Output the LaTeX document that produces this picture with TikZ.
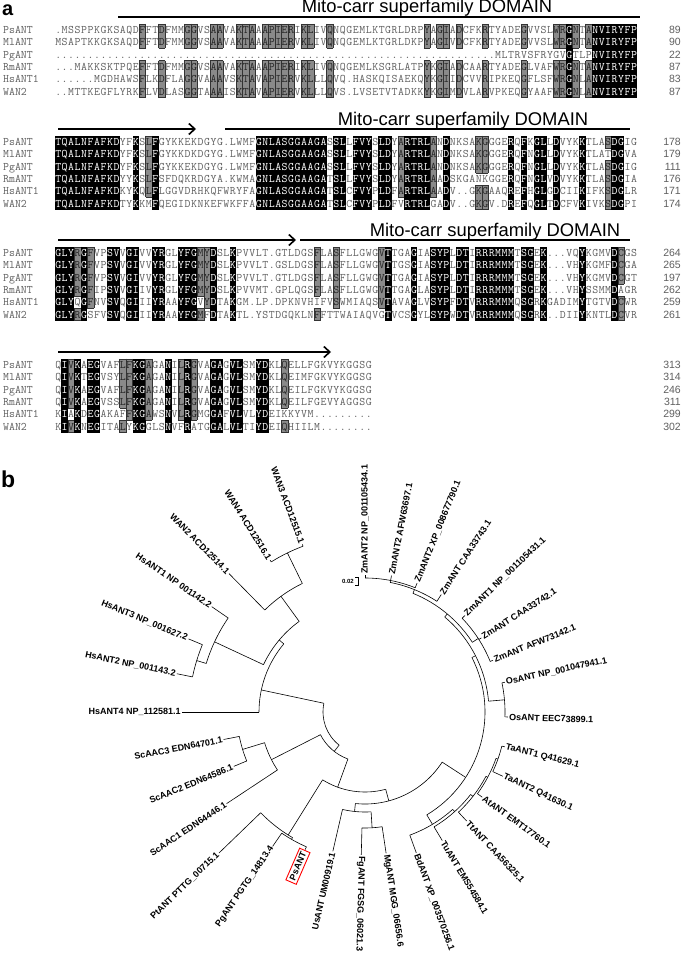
\documentclass[tikz,border=0pt]{standalone}
\usepackage{fontspec}
\setmainfont{Liberation Sans}
\usetikzlibrary{arrows.meta}
\definecolor{alngray}{HTML}{8A8A8A}
\definecolor{seqgray}{HTML}{606060}
\tikzset{
  seqtxt/.style={anchor=base, inner sep=0pt, text=seqgray, font=\ttfamily\fontsize{11.5}{12}\selectfont},
  nametxt/.style={anchor=base west, inner sep=0pt, text=seqgray, font=\ttfamily\fontsize{11.5}{12}\selectfont},
  numtxt/.style={anchor=base east, inner sep=0pt, text=seqgray, font=\fontsize{10.5}{12}\selectfont},
  hdr/.style={anchor=base, inner sep=0pt, font=\fontsize{18.4}{20}\selectfont},
  domline/.style={line width=2pt},
  domarrow/.style={line width=2pt, -{Straight Barb[length=6pt,width=11pt,line width=1.6pt]}},
  gedge/.style={line width=0.5pt, draw=black!80},
  tree/.style={line width=0.6pt},
  leaf/.style={inner sep=0.6pt, font=\bfseries\fontsize{9}{10}\selectfont},
  panel/.style={anchor=base west, inner sep=0pt, font=\bfseries\fontsize{20}{24}\selectfont}
}
% #1 x, #2 y, #3 char, #4 identity count, #5 grey above, #6 grey below
\newcommand\alncell[6]{%
  \ifnum#4=6
    \fill[black] (#1-3.3,#2-6.2) rectangle (#1+3.3,#2+6.2);
    \node[seqtxt,text=white] at (#1,#2+3.6) {#3};
  \else\ifnum#4=5
    \fill[alngray] (#1-3.235,#2-6.15) rectangle (#1+3.235,#2+6.15);
    \draw[gedge] (#1-3.235,#2-6.15) -- (#1-3.235,#2+6.15);
    \draw[gedge] (#1+3.235,#2-6.15) -- (#1+3.235,#2+6.15);
    \ifnum#5=0 \draw[gedge] (#1-3.235,#2-6.15) -- (#1+3.235,#2-6.15);\fi
    \ifnum#6=0 \draw[gedge] (#1-3.235,#2+6.15) -- (#1+3.235,#2+6.15);\fi
    \node[seqtxt,text=black!85] at (#1,#2+3.6) {#3};
  \else
    \node[seqtxt] at (#1,#2+3.6) {#3};
  \fi\fi}
\newcommand\alnlabels[7]{%
  \foreach \nm/\nu [count=\i from 0] in {PsANT/#2, MlANT/#3, PgANT/#4, RmANT/#5, HsANT1/#6, WAN2/#7}{
    \node[nametxt] at (3,#1+\i*12.3+3.6) {\nm};
    \node[numtxt] at (681,#1+\i*12.3+3.6) {\nu};}}
\newcommand\tstem[5]{%
  \draw[tree] (#2:#1) -- (#2:#3);
  \draw[tree] (#4:#3) arc[start angle=#4, end angle=#5, radius=#3];}
\newcommand\tleafR[4]{%
  \draw[tree] (#2:#1) -- (#2:#3);
  \node[leaf,anchor=west,rotate=#2] at (#2:#3+0.5) {#4};}
\newcommand\tleafL[4]{%
  \draw[tree] (#2:#1) -- (#2:#3);
  \node[leaf,anchor=east,rotate=#2+180] at (#2:#3+0.5) {#4};}
\ExplSyntaxOn
\int_new:N \l_aln_len_int
\int_new:N \l_aln_cnt_int
\tl_new:N \l_aln_x_tl
\tl_new:N \l_aln_y_tl
\tl_new:N \l_aln_u_tl
\tl_new:N \l_aln_d_tl
\int_step_inline:nn {6}
  {
    \str_new:c {l_aln_r #1 _str}
    \tl_new:c {l_aln_c #1 _tl}
  }
\int_step_inline:nnn {0} {7}
  { \int_new:c {l_aln_k #1 _int} }
\cs_new_protected:Npn \alnblock #1#2#3#4#5#6#7
  {
    \str_set:cn {l_aln_r1_str} {#2}
    \str_set:cn {l_aln_r2_str} {#3}
    \str_set:cn {l_aln_r3_str} {#4}
    \str_set:cn {l_aln_r4_str} {#5}
    \str_set:cn {l_aln_r5_str} {#6}
    \str_set:cn {l_aln_r6_str} {#7}
    \int_set:Nn \l_aln_len_int { \str_count:c {l_aln_r1_str} }
    \int_step_inline:nn { \l_aln_len_int }
      {
        \tl_set:Nx \l_aln_x_tl { \fp_eval:n { 55 + (##1 - 0.5) * 6.47 } }
        \int_step_inline:nn {6}
          {
            \tl_set:cx {l_aln_c ####1 _tl} { \str_item:cn {l_aln_r ####1 _str} {##1} }
          }
        \int_step_inline:nn {6}
          {
            \int_zero:N \l_aln_cnt_int
            \str_if_eq:eeF { \tl_use:c {l_aln_c ####1 _tl} } { . }
              {
                \int_step_inline:nn {6}
                  {
                    \str_if_eq:eeT { \tl_use:c {l_aln_c ####1 _tl} } { \tl_use:c {l_aln_c ########1 _tl} }
                      { \int_incr:N \l_aln_cnt_int }
                  }
              }
            \int_set_eq:cN {l_aln_k ####1 _int} \l_aln_cnt_int
          }
        \int_step_inline:nn {6}
          {
            \tl_set:Nx \l_aln_y_tl { \fp_eval:n { #1 + (####1 - 1) * 12.3 } }
            \tl_set:Nx \l_aln_u_tl
              { \int_compare:nNnTF { \int_use:c {l_aln_k \int_eval:n {####1 - 1} _int} } = {5} {1} {0} }
            \tl_set:Nx \l_aln_d_tl
              { \int_compare:nNnTF { \int_use:c {l_aln_k \int_eval:n {####1 + 1} _int} } = {5} {1} {0} }
            \alncell { \l_aln_x_tl } { \l_aln_y_tl } { \tl_use:c {l_aln_c ####1 _tl} }
              { \int_use:c {l_aln_k ####1 _int} } { \l_aln_u_tl } { \l_aln_d_tl }
          }
      }
  }
\ExplSyntaxOff
\begin{document}
\begin{tikzpicture}[x=1pt,y=-1pt]
\fill[white] (0,0) rectangle (685,963);
\useasboundingbox (0,0) rectangle (685,963);
% ---------------- panel a ----------------
\node[panel] (pa) at (2,16) {a};
\draw[domline] (118,17) -- (640,17);
\node[hdr] (h1) at (427,13) {Mito-carr superfamily DOMAIN};
\alnblock{30}
{.MSSPPKGKSAQDFFTDFMMGGVSAAVAKTAAAPIERIKLIVQNQGEMLKTGRLDRPYAGIADCFKRTYADEGVVSLWRGNTANVIRYFP}
{MSAPTKKGKSAQDFFTDFMMGGVSAAVAKTAAAPIERVKLIVQNQGEMLKTGRLDKPYAGIVDCFKRTYADEGVVSLWRGNTANVIRYFP}
{....................................................................MLTRVSFRYGVGTLPNVIRYFP}
{...MAKKSKTPQEFFTDFMMGGVSAAVAKTAAAPIERIKLIVQNQGEMLKSGRLATPYKGIADCAARTYADEGLVAFWRGNTANVIRYFP}
{......MGDHAWSFLKDFLAGGVAAAVSKTAVAPIERVKLLLQVQ.HASKQISAEKQYKGIIDCVVRIPKEQGFLSFWRGNLANVIRYFP}
{..MTTKEGFLYRKFLVDLASGGTAAAISKTAVAPIERVKLLLQVS.LVSETVTADKKYKGIMDVLARVPKEQGYAAFWRGNLANVIRYFP}
\alnlabels{30}{89}{90}{22}{87}{83}{87}
\draw[domarrow] (58,129) -- (196,129);
\draw[domline] (225,129) -- (630,129);
\node[hdr] (h2) at (463,125) {Mito-carr superfamily DOMAIN};
\alnblock{142}
{TQALNFAFKDYFKSLFGYKKEKDGYG.LWMFGNLASGGAAGASSLLFVYSLDYARTRLANDNKSAKGGGERQFKGLLDVYKKTLASDGIG}
{TQALNFAFKDYFKSLFGYKKDKDGYG.LWMFGNLASGGAAGASSLLFVYSLDYARTRLANDNKSAKGGGERQFNGLLDVYKKTLATDGVA}
{TQALNFAFKDYFKSLFGYKKEKDGYG.LWMFGNLASGGAAGASSLLFVYSLDYARTRLANDNKSAKGGGERQFNGLLDVYKKTLASDGIG}
{TQALNFAFKDYYKSLFSFDQKRDGYA.KWMAGNLASGGAAGATSLLFVYSLDYARTRLAADSKGANKGGERQFNGLVDVYKKTLASDGIA}
{TQALNFAFKDKYKQLFLGGVDRHKQFWRYFAGNLASGGAAGATSLCFVYPLDFARTRLAADV..GKGAAQREFHGLGDCIIKIFKSDGLR}
{TQALNFAFKDTYKKMFQEGIDKNKEFWKFFAGNLASGGAAGATSLCFVYPLDFVRTRLGADV..GKGV.DREFQGLTDCFVKIVKSDGPI}
\alnlabels{142}{178}{179}{111}{176}{171}{174}
\draw[domarrow] (58,240) -- (296,240);
\draw[domline] (300,240) -- (630,240);
\node[hdr] (h3) at (495,236) {Mito-carr superfamily DOMAIN};
\alnblock{253}
{GLYRGFVPSVVGIVVYRGLYFGMYDSLKPVVLT.GTLDGSFLASFLLGWGVTTGAGIASYPLDTIRRRMMMTSGEK...VQYKGMVDCGS}
{GLYRGFVPSVVGIVVYRGLYFGMYDSLKPVVLT.GSLDGSFLASFLLGWGVTTGSGIASYPLDTIRRRMMMTSGEK...VHYKGMFDCGA}
{GLYRGFVPSVVGIVVYRGLYFGMYDSLKPVVLT.GTLDGSFLASFLLGWGVTTGAGIASYPLDTIRRRMMMTSGEK...VHYKGMVDCGT}
{GLYRGFIPSVVGIIVYRGLYFGMYDSLKPVVMT.GPLQGSFLASFLLGWGVTTGAGLASYPLDTIRRRMMMTSGEK...VHYSSMMDAGR}
{GLYQGFNVSVQGIIIYRAAYFGVYDTAKGM.LP.DPKNVHIFVSWMIAQSVTAVAGLVSYPFDTVRRRMMMQSGRKGADIMYTGTVDCWR}
{GLYRGSFVSVQGIIIYRAAYFGMFDTAKTL.YSTDGQKLNFFTTWAIAQVGTVCSGYLSYPWDTVRRRMMMQSGRK..DIIYKNTLDCVR}
\alnlabels{253}{264}{265}{197}{262}{259}{261}
\draw[domarrow] (58,352) -- (331,352);
\alnblock{365}
{QIVKAEGVAFLFKGAGANILRGVAGAGVLSMYDKLQELLFGKVYKGGSG}
{QIVKTEGVSYLFKGAGANILRGVAGAGVLSMYDKLQEIMFGKVYKGGSG}
{QIVKAEGVAFLFKGAGANILRGVAGAGVLSMYDKLQEILFGKVYKGGSG}
{QIVKAEGVSSLFKGAGANILRGVAGAGVLSMYDKLQEILFGEVYAGGSG}
{KIAKDEGAKAFFKGAWSNVLRGMGGAFVLVLYDEIKKYVM.........}
{KIVKNEGITALYKGGLSNVFRATGGALVLTIYDEIQHIILM........}
\alnlabels{365}{313}{314}{246}{311}{299}{302}
% ---------------- panel b ----------------
\node[panel,font=\bfseries\fontsize{23}{26}\selectfont] (pb) at (1,487) {b};
\node[anchor=east,inner sep=0pt,font=\bfseries\fontsize{6}{7}\selectfont] (sc) at (354,581) {0.02};
\coordinate (sb1) at (355,577);
\coordinate (sb2) at (355,585);
\draw[line width=0.6pt] (sb1) -- ++(3,0) -- ++(0,8) -- (sb2);
\begin{scope}[shift={(365,712)},y=1pt]
\draw[tree] (168:42) arc[start angle=168,end angle=232,radius=42];
% animals / WAN
\tstem{42}{168}{106}{140}{180}
\tleafL{106}{180}{183}{HsANT4 NP\_112581.1}
\tstem{106}{140}{112}{126}{155}
\tstem{112}{126}{143}{116}{134.5}
\tleafL{143}{134.5}{194}{WAN2 ACD12514.1}
\tstem{143}{116}{177}{110.5}{122}
\tleafL{177}{122}{179}{WAN4 ACD12516.1}
\tleafL{177}{110.5}{179}{WAN3 ACD12515.1}
\tstem{112}{155}{166}{145.5}{163}
\tleafL{166}{145.5}{186}{HsANT1 NP 001142.2}
\tstem{166}{163}{176}{157.5}{168.5}
\tleafL{176}{157.5}{191}{HsANT3 NP\_001627.2}
\tleafL{176}{168.5}{192}{HsANT2 NP\_001143.2}
% fungi
\tstem{42}{232}{50}{207}{250}
\tstem{50}{207}{105}{197}{213.5}
\tleafL{105}{213.5}{166}{ScAAC1 EDN64446.1}
\tstem{105}{197}{128}{191}{202.5}
\tleafL{128}{202.5}{142}{ScAAC2 EDN64586.1}
\tleafL{128}{191}{144}{ScAAC3 EDN64701.1}
\tstem{50}{250}{80}{238}{285}
\tstem{80}{238}{145}{224}{240}
\tleafL{145}{224}{203}{PtANT PTTG\_00715.1}
\tstem{145}{240}{147}{235.5}{246.5}
\tleafL{147}{235.5}{163}{PgANT PGTG\_14813.4}
\draw[tree] (246.5:147) -- (246.5:150);
\node[leaf,draw=red,line width=0.9pt,inner sep=2.5pt,anchor=east,rotate=66.5] (ps) at (246.5:150.5) {PsANT};
\tstem{80}{285}{92}{264}{327}
\tstem{92}{264}{100}{257}{273.5}
\tleafL{100}{257}{143}{UsANT UM00919.1}
\tstem{100}{273.5}{116}{268.5}{278.5}
\tleafR{116}{268.5}{143}{FgANT FGSG\_06021.3}
\tleafR{116}{278.5}{143}{MgANT MGG\_06656.6}
% plants
\tstem{92}{327}{120}{301}{387}
\tstem{120}{301}{131}{290}{312}
\tleafR{131}{290}{150}{BdANT XP\_003570256.1}
\tstem{131}{312}{134}{301}{322}
\tleafR{134}{301}{150}{TuANT EMS54584.1}
\tstem{134}{322}{137}{313}{332}
\tleafR{137}{313}{149}{TtANT CAA56325.1}
\tstem{137}{332}{139}{324}{340.5}
\tleafR{139}{324}{145}{AtANT EMT17760.1}
\tstem{139}{340.5}{141}{335}{346}
\tleafR{141}{335}{152}{TaANT2 Q41630.1}
\tleafR{141}{346}{144}{TaANT1 Q41629.1}
\tstem{120}{387}{124}{365}{410}
\tstem{124}{365}{140}{358}{372}
\tleafR{140}{358}{143}{OsANT EEC73899.1}
\tleafR{140}{372}{143}{OsANT NP\_001047941.1}
\tstem{124}{410}{128}{393}{428}
\tstem{128}{393}{135}{382}{404}
\tleafR{135}{382}{138}{ZmANT AFW73142.1}
\tleafR{135}{392.5}{138}{ZmANT CAA33742.1}
\tleafR{135}{404}{139}{ZmANT1 NP\_001105431.1}
\tstem{128}{428}{132}{417}{439}
\tleafR{132}{417}{140}{ZmANT CAA33743.1}
\tstem{132}{439}{134}{428}{450}
\tleafR{134}{428}{139}{ZmANT2 XP\_008677790.1}
\tleafR{134}{439}{139}{ZmANT2 AFW63697.1}
\tleafR{134}{450}{137}{ZmANT2 NP\_001105434.1}
\end{scope}
\end{tikzpicture}
\end{document}
